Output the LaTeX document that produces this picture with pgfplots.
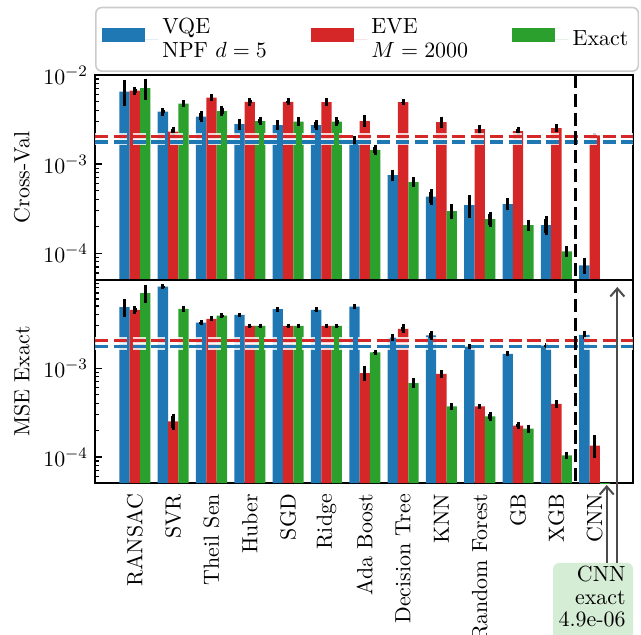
\documentclass[border=0pt]{standalone}
\usepackage{fontspec}
\usepackage{pgfplots}
\pgfplotsset{compat=1.18}
\usetikzlibrary{arrows.meta}
\definecolor{tabblue}{HTML}{1F77B4}
\definecolor{tabred}{HTML}{D62728}
\definecolor{tabgreen}{HTML}{2CA02C}
\definecolor{boxgreen}{RGB}{213,236,213}

\pgfplotsset{
  mybar/.style={ybar, bar width=0.27, bar shift=0pt, draw=none, fill=#1,
    error bars/y dir=both, error bars/y explicit,
    error bars/error bar style={line width=1.7pt, black},
    error bars/error mark options={black, line width=1.5pt, mark size=1.1pt}},
  myhline/.style={forget plot, sharp plot, no marks, line width=1.7pt, dash pattern=on 6.6pt off 2.8pt, #1},
  myhalo/.style={forget plot, sharp plot, no marks, line width=3.2pt, dash pattern=on 6.6pt off 2.8pt, white, opacity=0.8},
}

\begin{document}
\begin{tikzpicture}[font=\fontsize{10.95}{12}\selectfont]

% ---------------- top panel: Cross-Val ----------------
% bars of each method sit at category-0.27 (VQE), category (EVE), category+0.27 (Exact)
\begin{axis}[at={(47.5pt,177.5pt)}, anchor=south west,
  scale only axis, width=269pt, height=102.5pt,
  xmin=-1.04, xmax=13, ymode=log, ymin=5e-5, ymax=1e-2,
  xtick={0,...,12}, xticklabels={},
  tick align=inside, xtick pos=left, ytick pos=left,
  major tick length=3.5pt, minor tick length=2pt,
  every tick/.style={black, line width=0.6pt},
  axis line style={line width=0.8pt},
  ylabel={Cross-Val},
  every axis y label/.style={at={(axis description cs:-0.136,0.5)}, rotate=90, anchor=center},
  log origin=infty,
  legend columns=3,
  legend image code/.code={\fill[#1,sharp corners] (0pt,-1.4pt) rectangle (21.5pt,5.8pt); \path (21.5pt,0pt) -- (28.3pt,0pt);},
  legend style={at={(0,1.333)}, anchor=north west, draw=black!20, line width=0.8pt,
    rounded corners=3pt, fill=white, inner xsep=3pt, inner ysep=3.3pt,
    cells={align=left, anchor=west},
    /tikz/every even column/.append style={column sep=20pt},
    nodes={inner sep=2pt}},
]
\addplot[mybar=tabblue] coordinates {
 (-0.27,6.5e-3) +- (0,1.8e-3)
 (0.73,3.87e-3) +- (0,1.7e-4)
 (1.73,3.40e-3) +- (0,3.0e-4)
 (2.73,2.81e-3) +- (0,2.3e-4)
 (3.73,2.74e-3) +- (0,2.0e-4)
 (4.73,2.74e-3) +- (0,1.9e-4)
 (5.73,1.86e-3) +- (0,7e-5)
 (6.73,7.5e-4) +- (0,7e-5)
 (7.73,4.3e-4) +- (0,6e-5)
 (8.73,3.46e-4) +- (0,8e-5)
 (9.73,3.55e-4) +- (0,3.6e-5)
 (10.73,2.06e-4) +- (0,3.8e-5)
 (11.73,7.3e-5) +- (0,1.1e-5)
};
\addlegendentry{VQE\\NPF $d=5$}
\addplot[mybar=tabred] coordinates {
 (0,6.66e-3) +- (0,3.5e-4)
 (1,2.31e-3) +- (0,1.8e-4)
 (2,5.56e-3) +- (0,1.9e-4)
 (3,5.0e-3) +- (0,2e-4)
 (4,5.0e-3) +- (0,1.7e-4)
 (5,4.97e-3) +- (0,2e-4)
 (6,3.04e-3) +- (0,3e-4)
 (7,4.97e-3) +- (0,5e-5)
 (8,2.96e-3) +- (0,2.6e-4)
 (9,2.47e-3) +- (0,1.5e-4)
 (10,2.35e-3) +- (0,1.2e-4)
 (11,2.54e-3) +- (0,1.1e-4)
 (12,2.1e-3) +- (0,2e-5)
};
\addlegendentry{EVE\\$M=2000$}
\addplot[mybar=tabgreen] coordinates {
 (0.27,7.1e-3) +- (0,1.5e-3)
 (1.27,4.77e-3) +- (0,1.9e-4)
 (2.27,3.94e-3) +- (0,2.9e-4)
 (3.27,3.04e-3) +- (0,1.6e-4)
 (4.27,3.0e-3) +- (0,1.6e-4)
 (5.27,3.0e-3) +- (0,1.6e-4)
 (6.27,1.44e-3) +- (0,1e-4)
 (7.27,6.28e-4) +- (0,4e-5)
 (8.27,2.96e-4) +- (0,4.2e-5)
 (9.27,2.41e-4) +- (0,3.3e-5)
 (10.27,2.06e-4) +- (0,1.7e-5)
 (11.27,1.05e-4) +- (0,8e-6)
 (12.27,4.9e-6) +- (0,0)
};
\addlegendentry{Exact}
\addplot[myhalo] coordinates {(-1.04,2.03e-3) (13,2.03e-3)};
\addplot[myhline=tabred] coordinates {(-1.04,2.03e-3) (13,2.03e-3)};
\addplot[myhalo] coordinates {(-1.04,1.77e-3) (13,1.77e-3)};
\addplot[myhline=tabblue] coordinates {(-1.04,1.77e-3) (13,1.77e-3)};
\addplot[myhline=black] coordinates {(11.5,1e-2) (11.5,5e-5)};
\end{axis}

% ---------------- bottom panel: MSE Exact ----------------
\begin{axis}[at={(47.5pt,76pt)}, anchor=south west,
  scale only axis, width=269pt, height=101.5pt,
  xmin=-1.04, xmax=13, ymode=log, ymin=5.1e-5, ymax=9.8e-3,
  xtick={0,...,12},
  xticklabels={RANSAC,SVR,Theil Sen,Huber,SGD,Ridge,Ada Boost,Decision Tree,KNN,Random Forest,GB,XGB,CNN},
  xticklabel style={rotate=90, anchor=east}, xticklabel shift=2pt,
  tick align=inside, xtick pos=left, ytick pos=left,
  major tick length=3.5pt, minor tick length=2pt,
  every tick/.style={black, line width=0.6pt},
  axis line style={line width=0.8pt},
  ylabel={MSE Exact},
  every axis y label/.style={at={(axis description cs:-0.136,0.5)}, rotate=90, anchor=center},
  log origin=infty,
]
\addplot[mybar=tabblue] coordinates {
 (-0.27,4.84e-3) +- (0,8.5e-4)
 (0.73,8.26e-3) +- (0,5e-5)
 (1.73,3.25e-3) +- (0,2e-5)
 (2.73,3.97e-3) +- (0,2e-5)
 (3.73,4.6e-3) +- (0,3e-5)
 (4.73,4.52e-3) +- (0,3e-5)
 (5.73,4.92e-3) +- (0,3e-5)
 (6.73,2.21e-3) +- (0,1e-4)
 (7.73,2.33e-3) +- (0,1.3e-4)
 (8.73,1.75e-3) +- (0,1e-5)
 (9.73,1.45e-3) +- (0,1e-5)
 (10.73,1.79e-3) +- (0,1e-5)
 (11.73,2.37e-3) +- (0,1e-4)
};
\addplot[mybar=tabred] coordinates {
 (0,4.52e-3) +- (0,2e-4)
 (1,2.51e-4) +- (0,4e-5)
 (2,3.58e-3) +- (0,2e-5)
 (3,2.99e-3) +- (0,1e-5)
 (4,2.99e-3) +- (0,1e-5)
 (5,2.99e-3) +- (0,1e-5)
 (6,8.8e-4) +- (0,1.3e-4)
 (7,2.77e-3) +- (0,1.6e-4)
 (8,8.63e-4) +- (0,3.6e-5)
 (9,3.71e-4) +- (0,3e-6)
 (10,2.26e-4) +- (0,9e-6)
 (11,3.97e-4) +- (0,1.9e-5)
 (12,1.34e-4) +- (0,3.2e-5)
};
\addplot[mybar=tabgreen] coordinates {
 (0.27,6.97e-3) +- (0,1.2e-3)
 (1.27,4.64e-3) +- (0,1e-4)
 (2.27,3.9e-3) +- (0,2e-5)
 (3.27,2.99e-3) +- (0,1e-5)
 (4.27,2.99e-3) +- (0,1e-5)
 (5.27,2.99e-3) +- (0,1e-5)
 (6.27,1.5e-3) +- (0,1e-5)
 (7.27,6.78e-4) +- (0,5e-5)
 (8.27,3.71e-4) +- (0,1e-5)
 (9.27,2.86e-4) +- (0,1.5e-5)
 (10.27,2.08e-4) +- (0,9e-6)
 (11.27,1.04e-4) +- (0,4e-6)
 (12.27,4.9e-6) +- (0,0)
};
\addplot[myhalo] coordinates {(-1.04,2.04e-3) (13,2.04e-3)};
\addplot[myhline=tabred] coordinates {(-1.04,2.04e-3) (13,2.04e-3)};
\addplot[myhalo] coordinates {(-1.04,1.75e-3) (13,1.75e-3)};
\addplot[myhline=tabblue] coordinates {(-1.04,1.75e-3) (13,1.75e-3)};
\addplot[myhline=black] coordinates {(11.5,9.8e-3) (11.5,5.1e-5)};
\end{axis}

% ---------------- annotation ----------------
\fill[boxgreen, rounded corners=3pt] (276.5pt,-8pt) rectangle (316.5pt,36pt);
\draw[black!70, line width=1pt, -{Straight Barb[length=4pt, width=7pt]}] (303.35pt,36pt) -- (303.35pt,75pt);
\draw[black!70, line width=1pt, -{Straight Barb[length=4pt, width=7pt]}] (308.65pt,36pt) -- (308.65pt,174pt);
\node[anchor=base east, inner sep=0pt] at (313pt,26.6pt) {CNN};
\node[anchor=base east, inner sep=0pt] at (313pt,15.3pt) {exact};
\node[anchor=base east, inner sep=0pt] at (313pt,4.1pt) {4.9e-06};

\pgfresetboundingbox
\useasboundingbox (0,0) rectangle (320.5pt,317.5pt);
\end{tikzpicture}
\end{document}
